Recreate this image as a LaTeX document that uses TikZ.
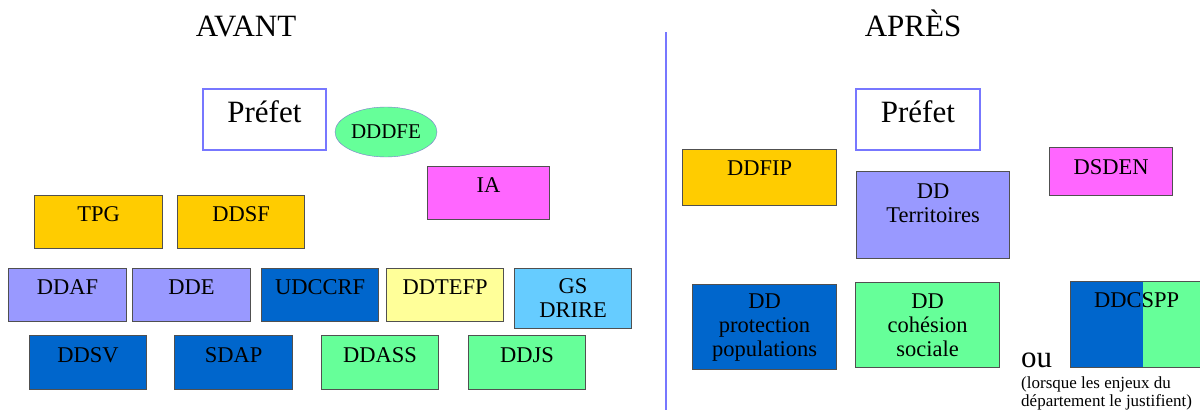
\documentclass[tikz,border=0pt]{standalone}
\usepackage{fontspec}
\setmainfont{Liberation Serif}
\usetikzlibrary{positioning,shapes.geometric}

\definecolor{prefetblue}{HTML}{7777FF}
\definecolor{gold}{HTML}{FFCC00}
\definecolor{lavender}{HTML}{9999FF}
\definecolor{darkblue}{HTML}{0066CC}
\definecolor{paleyellow}{HTML}{FFFF99}
\definecolor{skyblue}{HTML}{66CCFF}
\definecolor{mint}{HTML}{66FF99}
\definecolor{pink}{HTML}{FF66FF}
\definecolor{edgegray}{HTML}{505050}

\tikzset{
  unitbox/.style={draw=edgegray, line width=1.1pt, anchor=north west, inner sep=0pt,
    font=\fontsize{22.5}{24}\selectfont},
  service/.style={unitbox, minimum width=118pt, minimum height=53pt,
    text height=26pt, text depth=27pt},
  servicetall/.style={unitbox, align=center},
  prefet/.style={draw=prefetblue, line width=1.8pt, anchor=north west, inner sep=0pt,
    minimum width=123pt, minimum height=61pt, text height=34pt, text depth=27pt,
    font=\fontsize{31}{36}\selectfont},
  title/.style={anchor=base, inner sep=0pt, font=\fontsize{31}{36}\selectfont}
}

\begin{document}
\begin{tikzpicture}[x=1pt,y=-1pt]
  \useasboundingbox (0,0) rectangle (1200,410);
  % avant
  \node[title] (avant) at (246,36) {AVANT};
  \node[prefet] (prefetA) at (202,88) {Préfet};
  \node[shape=ellipse, draw=prefetblue!60!gray, fill=mint, inner sep=0pt, minimum width=102pt,
    minimum height=50pt, font=\fontsize{21}{24}\selectfont] (dddfe) at (386,132) {DDDFE};
  \node[service, fill=pink, minimum width=122pt] (ia) at (427,166) {IA};
  \node[service, fill=gold, minimum width=128pt] (tpg) at (34,195) {TPG};
  \node[service, fill=gold, minimum width=127pt] (ddsf) at (177,195) {DDSF};
  \node[service, fill=lavender] (ddaf) at (8,268) {DDAF};
  \node[service, fill=lavender] (dde) at (132,268) {DDE};
  \node[service, fill=darkblue, minimum width=117pt] (udccrf) at (261,268) {UDCCRF};
  \node[service, fill=paleyellow, minimum width=117pt] (ddtefp) at (386,268) {DDTEFP};
  \node[servicetall, fill=skyblue, minimum width=117pt, minimum height=60pt] (gsdrire) at (514,268) {GS\\DRIRE};
  \node[service, fill=darkblue, minimum width=117pt, minimum height=54pt] (ddsv) at (29,335) {DDSV};
  \node[service, fill=darkblue, minimum height=54pt] (sdap) at (174,335) {SDAP};
  \node[service, fill=mint, minimum width=117pt, minimum height=54pt] (ddass) at (321,335) {DDASS};
  \node[service, fill=mint, minimum width=117pt, minimum height=54pt] (ddjs) at (468,335) {DDJS};

  \draw[prefetblue, line width=2pt] (666,32) -- (666,410);

  % apres
  \node[title] (apres) at (913,36) {APRÈS};
  \node[prefet, minimum width=124pt] (prefetB) at (855,88) {Préfet};
  \node[service, fill=gold, minimum width=154pt, minimum height=56pt, text depth=30pt] (ddfip) at (682,149) {DDFIP};
  \node[servicetall, fill=lavender, minimum width=153pt, minimum height=87pt] (ddterr) at (856,171) {DD\\Territoires\\~};
  \node[service, fill=pink, minimum width=123pt, minimum height=48pt, text height=27pt, text depth=21pt] (dsden) at (1049,147) {DSDEN};
  \node[servicetall, fill=darkblue, minimum width=144pt, minimum height=85pt] (ddprot) at (692,284) {DD\\protection\\populations};
  \node[servicetall, fill=mint, minimum width=144pt, minimum height=85pt] (ddcoh) at (855,282) {DD\\cohésion\\sociale};
  \node[service, fill=mint, minimum width=132pt, minimum height=86pt, text depth=60pt,
    path picture={\fill[darkblue] (path picture bounding box.north west) rectangle ([xshift=72pt]path picture bounding box.south west);}] (ddcspp) at (1070,281) {DDCSPP};
  \node[anchor=base west, inner sep=0pt, font=\fontsize{31}{36}\selectfont] (ou) at (1021,367) {ou};
  \node[anchor=north west, inner sep=0pt, align=left, font=\fontsize{17}{18}\selectfont] (note) at (1021,376)
    {(lorsque les enjeux du\\département le justifient)};
\end{tikzpicture}
\end{document}
